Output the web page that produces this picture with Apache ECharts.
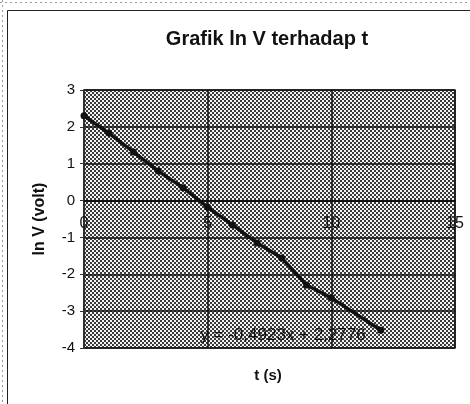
<!DOCTYPE html>
<html>
<head>
<meta charset="utf-8">
<script src="https://cdn.jsdelivr.net/npm/echarts@6/dist/echarts.min.js"></script>
<style>
  html, body { margin: 0; padding: 0; background: #fff; }
  #chart { width: 470px; height: 404px; }
</style>
</head>
<body>
<div id="chart"></div>
<script>
// data
const tValues = [0, 1, 2, 3, 4, 5, 6, 7, 8, 9, 10, 12]
const lnV = [2.30, 1.83, 1.32, 0.80, 0.35, -0.18, -0.66, -1.15, -1.56, -2.29, -2.64, -3.52]
const xTicks = [0, 5, 10, 15]
const yTicks = [-4, -3, -2, -1, 0, 1, 2, 3]
const trendText = 'y = -0,4923x + 2,2776'

const font = '"Liberation Sans", Arial, sans-serif'

// plot box in pixels
const plotTop = 90
const plotBottom = 348
const zeroOffset = (plotBottom - plotTop) * (0 - yTicks[0]) / (yTicks[yTicks.length - 1] - yTicks[0])

// dithered grey fill like the printed plot area
const makePattern = () => {
  const c = document.createElement('canvas')
  c.width = 4
  c.height = 4
  const ctx = c.getContext('2d')
  ctx.fillStyle = '#f2f2f2'
  ctx.fillRect(0, 0, 4, 4)
  ctx.fillStyle = '#3a3a3a'
  ctx.fillRect(0, 0, 2, 2)
  ctx.fillRect(2, 2, 2, 2)
  return c
}

const chart = echarts.init(document.getElementById('chart'))

const option = {
  animation: false,
  backgroundColor: '#fff',
  title: {
    text: 'Grafik ln V terhadap t',
    left: 262,
    textAlign: 'center',
    top: 24,
    textStyle: { fontFamily: font, fontSize: 20, fontWeight: 'bold', color: '#111' }
  },
  grid: {
    left: 84,
    top: plotTop,
    right: 15,
    bottom: 404 - plotBottom,
    outerBoundsMode: 'none',
    containLabel: false,
    show: true,
    backgroundColor: { image: makePattern(), repeat: 'repeat' },
    borderColor: '#333',
    borderWidth: 1.5
  },
  xAxis: {
    type: 'value',
    min: xTicks[0],
    max: xTicks[xTicks.length - 1],
    interval: 5,
    offset: -zeroOffset,
    axisLine: { onZero: false, lineStyle: { color: '#111', width: 2 } },
    axisTick: { show: false },
    axisLabel: { fontFamily: font, fontSize: 16, color: '#111', margin: 15 },
    splitLine: { show: true, lineStyle: { color: '#111', width: 1.5 } }
  },
  yAxis: {
    type: 'value',
    min: yTicks[0],
    max: yTicks[yTicks.length - 1],
    interval: 1,
    axisLine: { show: true, onZero: false, lineStyle: { color: '#333', width: 1.5 } },
    axisTick: { show: true, length: 4, lineStyle: { color: '#333' } },
    axisLabel: { fontFamily: font, fontSize: 15, color: '#111', margin: 9 },
    splitLine: { show: true, lineStyle: { color: '#111', width: 1.5 } }
  },
  series: [{
    type: 'line',
    data: tValues.map((t, i) => [t, lnV[i]]),
    symbol: 'circle',
    symbolSize: 7,
    itemStyle: { color: '#111' },
    lineStyle: { color: '#111', width: 3.5 }
  }],
  graphic: [
    {
      type: 'line',
      shape: { x1: 0, y1: 2.5, x2: 470, y2: 2.5 },
      style: { stroke: '#999', lineWidth: 1, lineDash: [2, 3] }
    },
    {
      type: 'line',
      shape: { x1: 2.5, y1: 0, x2: 2.5, y2: 404 },
      style: { stroke: '#999', lineWidth: 1, lineDash: [2, 3] }
    },
    {
      type: 'rect',
      shape: { x: 7.5, y: 10.5, width: 480, height: 420 },
      style: { fill: null, stroke: '#222', lineWidth: 1 }
    },
    {
      type: 'text',
      x: 268,
      y: 376,
      style: {
        text: 't (s)',
        fontFamily: font,
        fontSize: 15,
        fontWeight: 'bold',
        fill: '#111',
        align: 'center',
        verticalAlign: 'middle'
      }
    },
    {
      type: 'text',
      x: 40,
      y: 219,
      rotation: Math.PI / 2,
      style: {
        text: 'ln V (volt)',
        fontFamily: font,
        fontSize: 16,
        fontWeight: 'bold',
        fill: '#111',
        align: 'center',
        verticalAlign: 'middle'
      }
    },
    {
      type: 'text',
      x: 283,
      y: 335,
      style: {
        text: trendText,
        fontFamily: font,
        fontSize: 17,
        fill: '#111',
        align: 'center',
        verticalAlign: 'middle'
      }
    }
  ]
}

chart.setOption(option)
</script>
</body>
</html>
